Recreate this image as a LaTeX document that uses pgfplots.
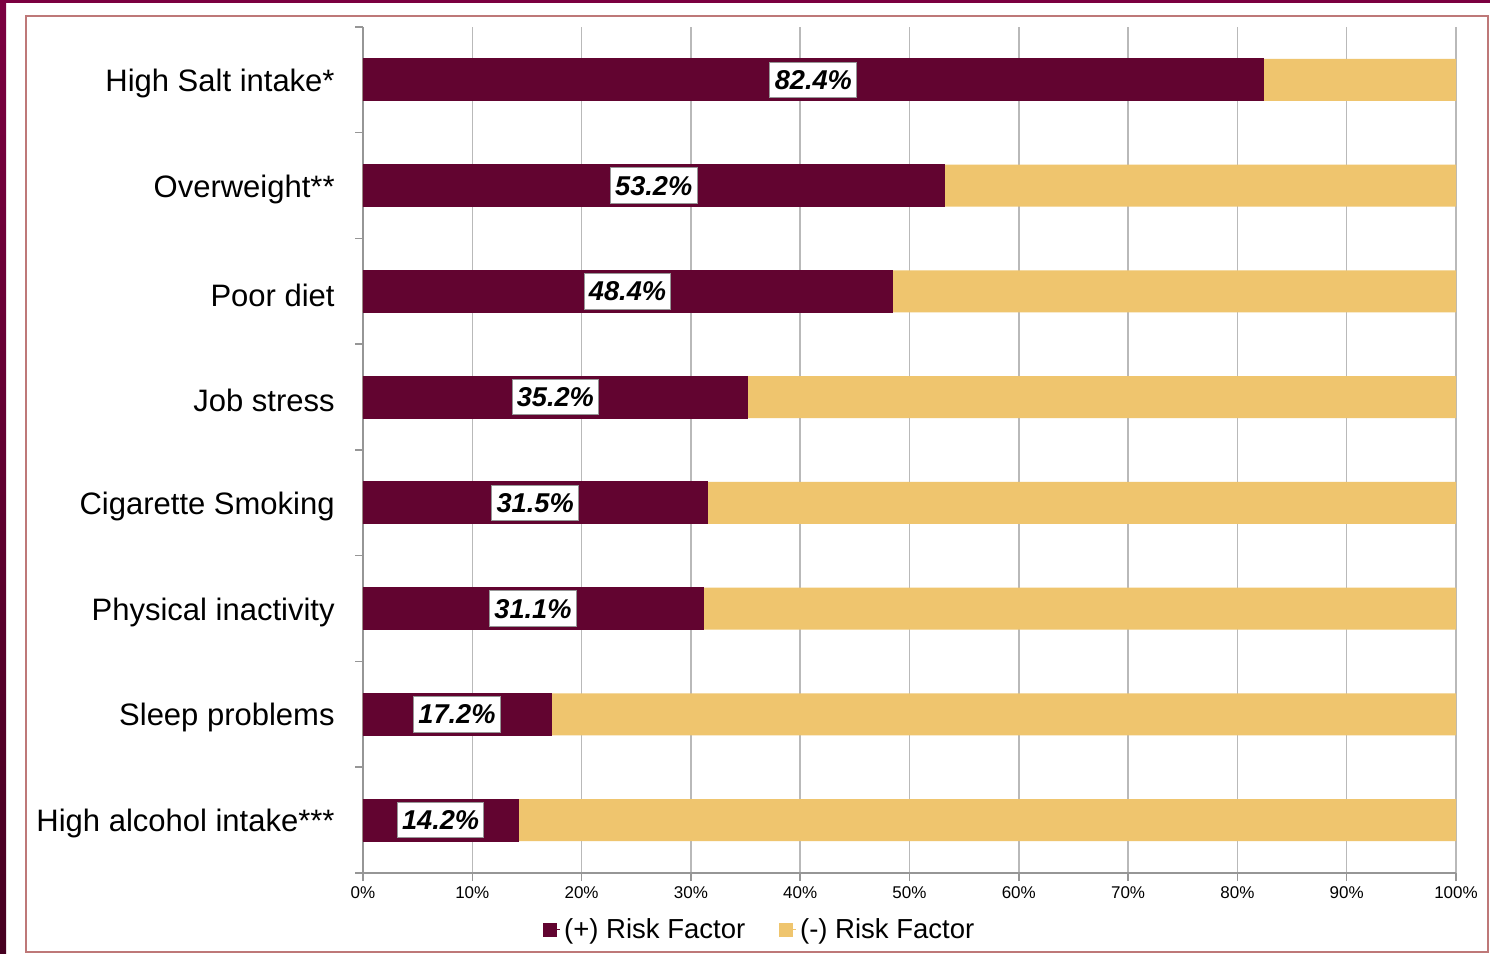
\documentclass[border=0pt]{standalone}
\usepackage{fontspec}
\setmainfont{Liberation Sans}
\usepackage{pgfplots}
\pgfplotsset{compat=1.18}
\definecolor{barmaroon}{RGB}{98,4,48}
\definecolor{bartan}{RGB}{239,197,110}
\definecolor{framemaroon}{RGB}{123,0,64}
\definecolor{framedark}{RGB}{70,0,32}
\definecolor{borderred}{RGB}{190,120,120}
\definecolor{gridgray}{RGB}{185,185,185}
\definecolor{axisgray}{RGB}{150,150,150}
\begin{document}
\begin{tikzpicture}
\path[use as bounding box] (0,0) rectangle (745pt,477pt);
\fill[white] (0,0) rectangle (745pt,477pt);
\fill[framemaroon] (0,475.5pt) rectangle (745pt,477pt);
\shade[top color=framemaroon, bottom color=framedark] (0,0) rectangle (3pt,477pt);
\draw[borderred, line width=0.8pt] (13pt,1pt) rectangle (744pt,469pt);
\begin{axis}[
  at={(181.5pt,40.5pt)}, anchor=south west,
  scale only axis, width=546.5pt, height=423pt,
  xmin=0, xmax=100, ymin=0.5, ymax=8.5,
  axis x line*=bottom, axis y line*=left,
  axis line style={axisgray, line width=0.75pt, -},
  tick align=outside,
  major tick length=4pt, minor tick length=4pt,
  xtick={0,10,...,100},
  xticklabels={0\%,10\%,20\%,30\%,40\%,50\%,60\%,70\%,80\%,90\%,100\%},
  xticklabel style={font=\fontsize{8.5}{10}\selectfont, inner sep=1pt, yshift=-1.5pt},
  xtick style={axisgray, line width=0.75pt},
  xmajorgrids,
  grid style={gridgray, line width=0.75pt},
  ytick={1,...,8},
  yticklabels={High alcohol intake***,Sleep problems,Physical inactivity,Cigarette Smoking,Job stress,Poor diet,Overweight**,High Salt intake*},
  yticklabel style={font=\fontsize{15.5}{18}\selectfont, inner sep=0pt, xshift=-10pt, yshift=-1.8pt},
  major y tick style={draw=none},
  minor ytick={0.5,1.5,...,8.5},
  minor y tick style={draw=axisgray, line width=0.75pt},
  /pgf/number format/assume math mode=true,
  legend columns=2,
  legend style={draw=none, fill=none, at={(0.364,-0.067)}, anchor=center,
    font=\fontsize{13.75}{16}\selectfont,
    /tikz/every even column/.append style={column sep=15pt}},
  legend image code/.code={\fill[#1] (0pt,-3.25pt) rectangle (6.5pt,3.25pt);
    \path (0pt,0pt) -- (8pt,0pt);},
  clip=false,
]
\addlegendimage{barmaroon}
\addlegendentry{(+) Risk Factor}
\addlegendimage{bartan}
\addlegendentry{(-) Risk Factor}
% complement share (drawn as full bar beneath the positive share)
\addplot[xbar, bar width=21pt, bar shift=0pt, fill=bartan, draw=none, forget plot]
  coordinates {(100,1) (100,2) (100,3) (100,4) (100,5) (100,6) (100,7) (100,8)};
% positive share
\addplot[xbar, bar width=21pt, bar shift=0pt, fill=barmaroon, draw=barmaroon, forget plot]
  coordinates {(14.2,1) (17.2,2) (31.1,3) (31.5,4) (35.2,5) (48.4,6) (53.2,7) (82.4,8)};
% value labels at the centre of each positive bar
\addplot[draw=none, mark=none, forget plot, nodes near coords, point meta=explicit symbolic,
  every node near coord/.style={anchor=center, fill=white, draw=axisgray, line width=0.5pt,
    font=\fontsize{13.6}{15}\selectfont\bfseries\itshape,
    text height=9.8pt, text depth=0.3pt, inner xsep=2.4pt, inner ysep=3.8pt}]
  coordinates {(7.1,1)[14.2\%] (8.6,2)[17.2\%] (15.55,3)[31.1\%] (15.75,4)[31.5\%]
               (17.6,5)[35.2\%] (24.2,6)[48.4\%] (26.6,7)[53.2\%] (41.2,8)[82.4\%]};
\end{axis}
\end{tikzpicture}
\end{document}
